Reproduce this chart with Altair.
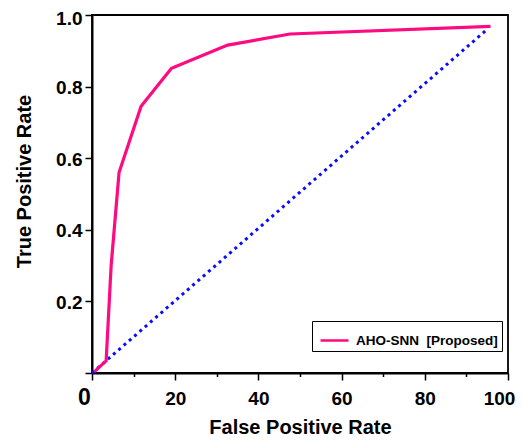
import altair as alt
import pandas as pd

fpr = [0.6, 3.4, 4.6, 6.5, 11.8, 19.1, 32.6, 47.6, 95.8]
tpr = [0.004, 0.034, 0.30, 0.56, 0.745, 0.851, 0.916, 0.947, 0.968]
chance_fpr = [0.0, 95.2]
chance_tpr = [0.0, 0.962]
series_name = "AHO-SNN\u00a0\u00a0[Proposed]"

x_ticks = [0, 10, 20, 30, 40, 50, 60, 70, 80, 90, 100]
y_ticks = [0.0, 0.1, 0.2, 0.3, 0.4, 0.5, 0.6, 0.7, 0.8, 0.9, 1.0]

roc = pd.DataFrame({"fpr": fpr, "tpr": tpr, "series": series_name, "order": range(len(fpr))})
chance = pd.DataFrame({"fpr": chance_fpr, "tpr": chance_tpr})

FONT = "Liberation Sans"
W, H = 416, 358

x_enc = alt.X(
    "fpr:Q",
    scale=alt.Scale(domain=[0, 100], nice=False, zero=False),
    axis=alt.Axis(
        values=x_ticks,
        title="False Positive Rate",
        labelExpr="datum.value % 20 == 0 ? datum.value : ''",
        labelFontSize={"expr": "datum.value == 0 ? 23 : 19"},
        labelOffset={"expr": "datum.value == 0 ? -8 : (datum.value == 100 ? -9 : 0)"},
        labelAlign="center",
        labelBaseline="alphabetic",
        labelPadding=24,
        labelBound=False,
        tickSize={"condition": {"test": "datum.value % 20 == 0", "value": 7}, "value": 3.5},
        grid=False,
        titleX=W / 2,
        titleY=60,
        titleBaseline="alphabetic",
    ),
)
y_enc = alt.Y(
    "tpr:Q",
    scale=alt.Scale(domain=[0, 1], nice=False, zero=False),
    axis=alt.Axis(
        values=y_ticks,
        title="True Positive Rate",
        labelExpr="(round(datum.value*10) % 2 == 0 && datum.value > 0) ? format(datum.value, '.1f') : ''",
        labelOffset={"expr": "datum.value > 0.95 ? 3 : 1"},
        tickSize={"condition": {"test": "round(datum.value*10) % 2 == 0", "value": 7}, "value": 3.5},
        grid=False,
        labelPadding=3,
        titleX=-62,
        titleY=166,
        titleBaseline="alphabetic",
    ),
)

roc_line = alt.Chart(roc).mark_line(strokeWidth=3.2, strokeJoin="miter").encode(
    x=x_enc,
    y=y_enc,
    order="order:Q",
    color=alt.Color(
        "series:N",
        scale=alt.Scale(domain=[series_name], range=["#ff0a80"]),
        legend=alt.Legend(
            title=None,
            orient="none",
            legendX=220,
            legendY=306,
            symbolType="stroke",
            symbolSize=784,
            symbolStrokeWidth=2.5,
            labelFont=FONT,
            labelFontWeight="bold",
            labelFontSize=13.5,
            labelColor="black",
            strokeColor="black",
            fillColor="white",
            padding=4,
            symbolOffset=3,
            labelOffset=6,
        ),
    ),
)

chance_line = alt.Chart(chance).mark_line(
    color="#0a0aff", strokeWidth=3, strokeDash=[3, 4], strokeCap="butt"
).encode(x="fpr:Q", y="tpr:Q")

chart = (
    alt.layer(chance_line, roc_line)
    .properties(
        width=W,
        height=H,
        autosize=alt.AutoSizeParams(type="none"),
        padding={"left": 84, "top": 7, "right": 7, "bottom": 64},
    )
    .configure_view(stroke="black", strokeWidth=1.8)
    .configure_axis(
        domainColor="black",
        domainWidth=2,
        tickColor="black",
        tickWidth=1.5,
        labelFont=FONT,
        labelFontWeight="bold",
        labelFontSize=19,
        labelColor="black",
        titleFont=FONT,
        titleFontWeight="bold",
        titleFontSize=20,
        titleColor="black",
    )
)

chart.save("out.html", embed_options={"renderer": "svg", "actions": False})
